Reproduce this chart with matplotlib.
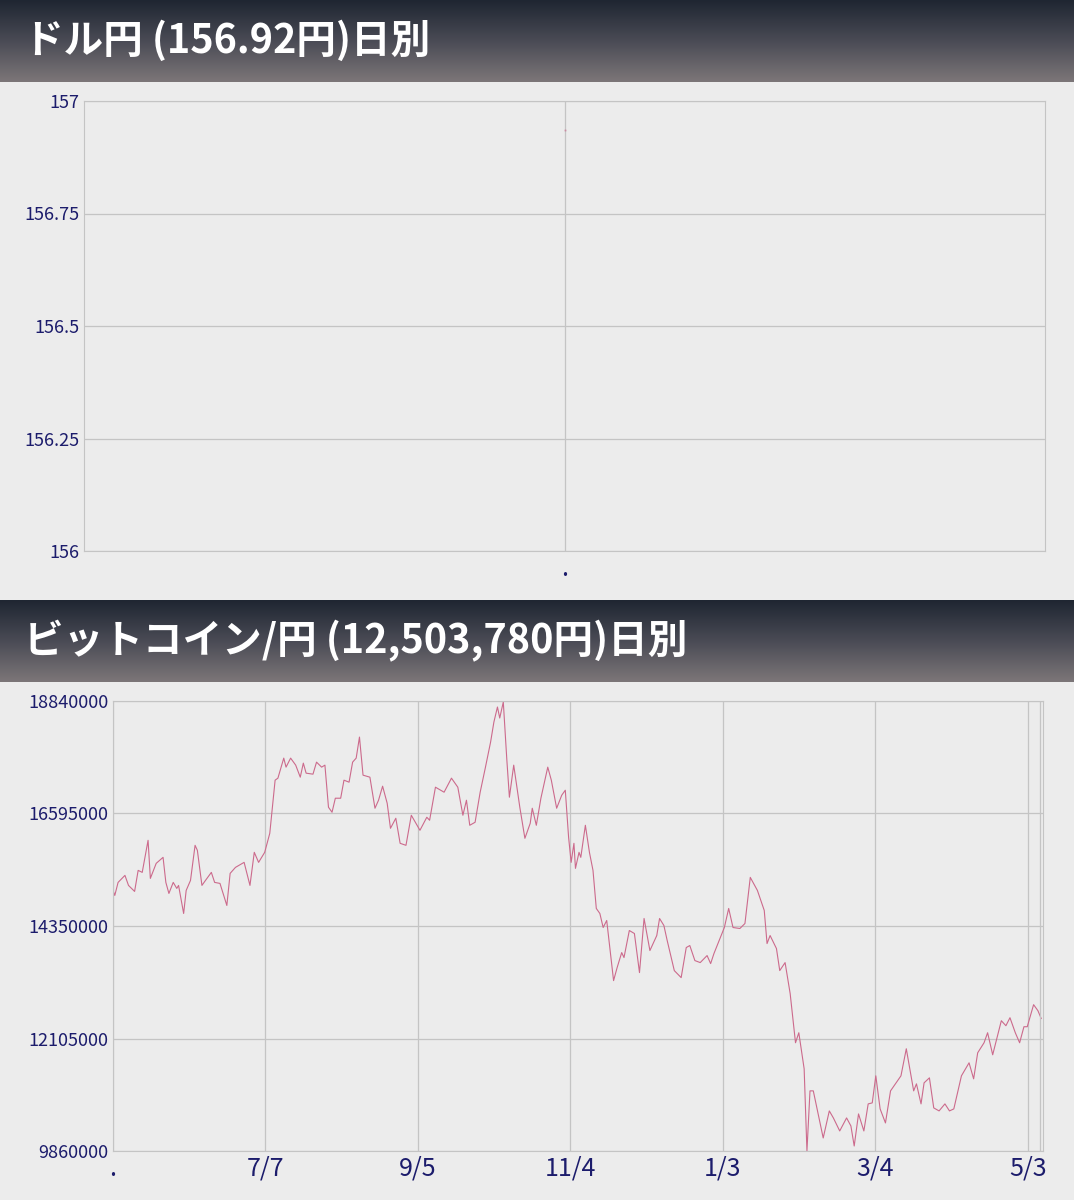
import numpy as np
import matplotlib.pyplot as plt

plt.rcParams['font.family'] = ['Noto Sans CJK JP', 'DejaVu Sans']

# USD/JPY panel
usd_title = 'ドル円 (156.92円)日別'
usd_ticks = [156, 156.25, 156.5, 156.75, 157]
usd_labels = ['156', '156.25', '156.5', '156.75', '157']
usd_x = [0]
usd_y = [156.935]

# BTC/JPY panel (values in 10,000 yen, days since start)
btc_title = 'ビットコイン/円 (12,503,780円)日別'
btc_days = [
    0, 0.7, 2, 4.7, 6.1, 8.5, 9.9, 11.5, 13.8, 14.7, 17, 19.7, 20.8, 22, 23.7, 25.1, 25.8,
    27.8, 28.8, 30.5, 32.3, 33.2, 35, 36.4, 38.7, 40, 42.1, 44.8, 46.1, 48.2, 51.6, 53.9,
    55.6, 57.3, 59.7, 61.7, 63.8, 64.9, 67.2, 68.1, 69.9, 71.9, 73.7, 74.9, 76, 78.7, 80.1,
    82.1, 83.4, 84.8, 86.2, 87.5, 89.6, 90.9, 92.9, 94.3, 95.7, 97, 98.4, 101.1, 103.1,
    104.5, 106.1, 107.9, 109.2, 111.3, 113, 115.3, 117.4, 120.8, 123.5, 124.6, 126.9, 130.3,
    133.2, 135.7, 137.7, 139.1, 140.4, 142.5, 144.5, 146.5, 148.6, 149.9, 151.3, 152.2,
    153.6, 155, 156, 157.7, 160.1, 162.1, 164.2,
    165, 166.6, 168.4, 171.1, 172.5, 174.6, 176.6, 178, 179.3, 180.3, 181.4, 182, 183.4,
    184.1, 185.9, 187.5, 188.9, 190.2, 191.6, 192.9, 194.3, 197, 198.4, 200.2, 201.1, 203.2,
    205.2, 207.2, 209, 211.3, 214, 215.1, 216.8, 218.1, 220.9, 223.6, 225.6, 227, 229, 231.1,
    233.8, 235.2, 236.5, 240.6, 242.3, 244, 246.7, 248.7, 250.8, 253.6, 256.3, 257.4, 258.6,
    261.1, 262.4, 264.5, 266.5, 268.6, 269.9, 272, 273.1, 274.3, 275.6, 279.5, 281.9, 283.5,
    286, 288.7, 290.4, 291.7, 293.4, 295.5, 297.2, 298.8, 300.2, 301.9, 304, 306, 310.1,
    312.2, 315.1, 316.2, 318, 319.2, 321.3, 323, 325.1, 327.4, 329.2, 330.9, 333.9, 336.9,
    338.7, 340.3, 342.8, 344.2, 346.2, 349.6, 351.4, 353, 355.1, 356.8, 358.5, 359.8, 362.3,
    364, 365.3]
btc_vals = [
    1506, 1496, 1522, 1536, 1516, 1504, 1546, 1542, 1606, 1530, 1560, 1572, 1522, 1500, 1522,
    1510, 1516, 1460, 1506, 1526, 1596, 1586, 1516, 1526, 1542, 1522, 1520, 1476, 1540, 1552,
    1562, 1516, 1582, 1562, 1582, 1620, 1726, 1730, 1770, 1752, 1770, 1756, 1732, 1760, 1740,
    1738, 1762, 1752, 1756, 1672, 1662, 1690, 1690, 1726, 1722, 1762, 1770, 1812, 1736, 1732,
    1670, 1686, 1714, 1680, 1630, 1650, 1600, 1596, 1656, 1626, 1652, 1646, 1712, 1702, 1730,
    1712, 1656, 1686, 1636, 1642, 1702, 1750, 1802, 1842, 1872, 1850, 1882, 1766, 1692, 1756,
    1672, 1610, 1640,
    1670, 1636, 1690, 1752, 1726, 1670, 1696, 1706, 1612, 1562, 1600, 1550, 1582, 1572, 1636,
    1582, 1546, 1470, 1460, 1432, 1446, 1326, 1352, 1382, 1372, 1426, 1420, 1342, 1450, 1386,
    1416, 1450, 1436, 1406, 1346, 1332, 1392, 1396, 1366, 1362, 1376, 1360, 1380, 1432, 1470,
    1432, 1430, 1440, 1532, 1506, 1466, 1400, 1416, 1390, 1346, 1362, 1300, 1202, 1222, 1150,
    986, 1106, 1106, 1012, 1066, 1052, 1026, 1052, 1036, 996, 1060, 1026, 1080, 1082, 1136,
    1070, 1042, 1106, 1136, 1190, 1106, 1120, 1080, 1122, 1132, 1072, 1066, 1080, 1066, 1070,
    1136, 1162, 1130, 1182, 1202, 1222, 1178, 1246, 1236, 1252, 1222, 1202, 1234, 1234, 1278,
    1266, 1250.378]
btc_ticks = [9860000, 12105000, 14350000, 16595000, 18840000]
btc_xticks = [0, 60, 120, 180, 240, 300, 360]
btc_xlabels = ['.', '7/7', '9/5', '11/4', '1/3', '3/4', '5/3']

W, H = 1074, 1200
bg = '#ececec'
navy = '#1c1c6c'
line_col = '#cc6a8c'
grid_col = '#c4c4c4'

fig = plt.figure(figsize=(W / 100, H / 100), dpi=100, facecolor=bg)


def header(top, text):
    ax = fig.add_axes([0, 1 - (top + 82) / H, 1, 82 / H])
    grad = np.linspace(0, 1, 100).reshape(-1, 1)
    cmap = plt.matplotlib.colors.LinearSegmentedColormap.from_list('hd', ['#1f2632', '#4a4b55', '#7c7678'])
    ax.imshow(grad, aspect='auto', cmap=cmap, extent=[0, 1, 0, 1])
    ax.set_axis_off()
    ax.text(0.022, 0.5, text, color='white', fontsize=28.5, fontweight='bold', va='center', ha='left')


def panel(left, top, right, bottom):
    ax = fig.add_axes([left / W, 1 - bottom / H, (right - left) / W, (bottom - top) / H])
    ax.set_facecolor(bg)
    for s in ax.spines.values():
        s.set_color(grid_col)
    ax.grid(True, color=grid_col, linewidth=0.9)
    ax.tick_params(length=0, colors=navy)
    return ax


header(0, usd_title)
ax1 = panel(84, 101, 1045, 551)
ax1.plot(usd_x, usd_y, marker='.', markersize=1.5, color=line_col, alpha=0.4)
ax1.set_xlim(-1, 1)
ax1.set_ylim(156, 157)
ax1.set_yticks(usd_ticks)
ax1.set_yticklabels(usd_labels, fontsize=13)
ax1.set_xticks([0])
ax1.set_xticklabels(['.'], fontsize=18)

header(600, btc_title)
ax2 = panel(113, 701, 1043, 1151)
ax2.plot(btc_days, np.array(btc_vals) * 10000, color=line_col, linewidth=0.8)
ax2.axvline(365, color=grid_col, linewidth=0.9)
ax2.set_xlim(0, 366)
ax2.set_ylim(btc_ticks[0], btc_ticks[-1])
ax2.set_yticks(btc_ticks)
ax2.set_yticklabels([str(t) for t in btc_ticks], fontsize=13)
ax2.set_xticks(btc_xticks)
ax2.set_xticklabels(btc_xlabels, fontsize=18)

fig.savefig('out.png', dpi=100, facecolor=bg)
